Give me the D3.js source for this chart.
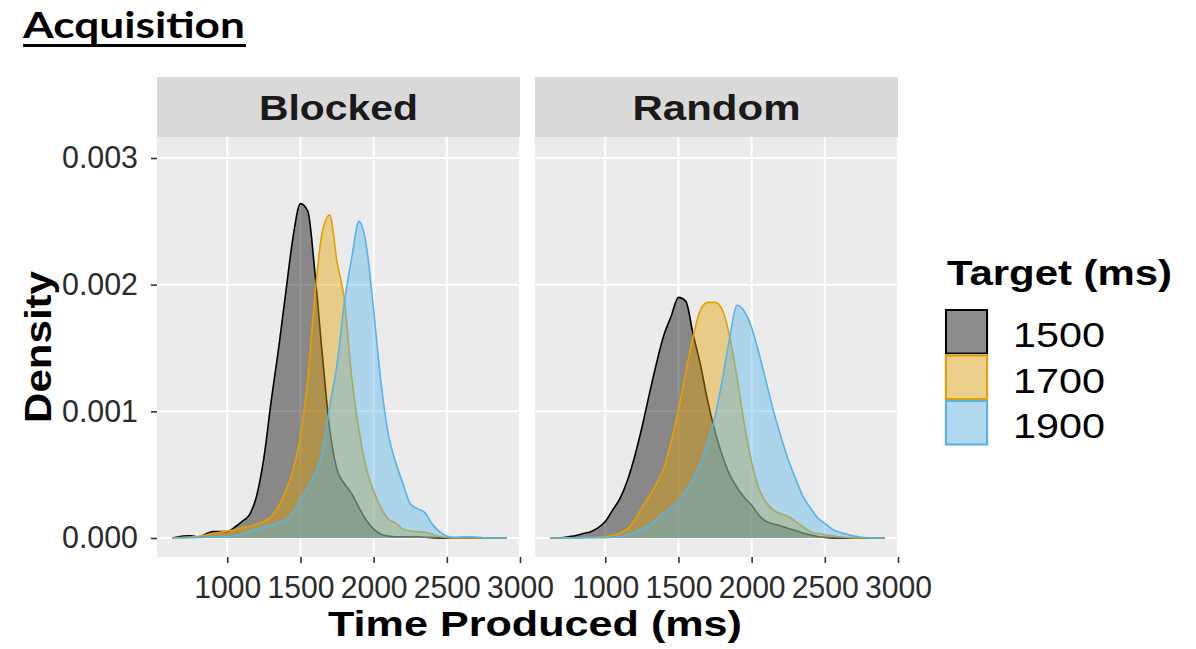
<!DOCTYPE html>
<html lang="en">
	<head>
		<meta charset="UTF-8" />
		<title>Acquisition</title>
		<script src="https://cdn.jsdelivr.net/npm/d3@7"></script>
		<style>
			* {
				padding: 0;
				margin: 0;
				box-sizing: border-box;
			}
			body {
				background: #fff;
			}
			svg {
				display: block;
				font-family: 'Liberation Sans', Arial, sans-serif;
			}
		</style>
	</head>
	<body>
		<svg id="chart" width="1196" height="649"></svg>
		<script>
			let times = [625, 650, 700, 750, 800, 850, 900, 950, 1000, 1050, 1100, 1150, 1200, 1250, 1300, 1350, 1400, 1450, 1500, 1550, 1600, 1650, 1700, 1750, 1800, 1850, 1900, 1950, 2000, 2050, 2100, 2150, 2200, 2250, 2300, 2350, 2400, 2450, 2500, 2550, 2600, 2650, 2700, 2750, 2800, 2850, 2900, 2910];

			// densities, in units of 0.001
			let blocked1500 = [0, 0.005, 0.016, 0.018, 0.008, 0.03, 0.05, 0.05, 0.05, 0.085, 0.13, 0.18, 0.33, 0.63, 1.08, 1.49, 1.94, 2.38, 2.64, 2.58, 2.08, 1.44, 0.86, 0.54, 0.43, 0.35, 0.24, 0.14, 0.07, 0.03, 0.015, 0.01, 0.01, 0.01, 0.01, 0.006, 0.003, 0.001, 0, 0, 0, 0, 0, 0, 0, 0, 0, 0];
			let blocked1700 = [0, 0.003, 0.005, 0.008, 0.012, 0.024, 0.035, 0.045, 0.055, 0.065, 0.08, 0.09, 0.11, 0.13, 0.17, 0.25, 0.37, 0.54, 0.8, 1.25, 1.93, 2.42, 2.55, 2.18, 1.88, 1.27, 0.85, 0.55, 0.37, 0.24, 0.15, 0.12, 0.07, 0.055, 0.05, 0.045, 0.03, 0.012, 0.004, 0.001, 0, 0, 0, 0, 0, 0, 0, 0];
			let blocked1900 = [0, 0, 0, 0.002, 0.004, 0.006, 0.008, 0.01, 0.012, 0.018, 0.028, 0.05, 0.07, 0.085, 0.1, 0.12, 0.14, 0.2, 0.3, 0.4, 0.51, 0.68, 1.04, 1.37, 1.86, 2.21, 2.5, 2.31, 1.8, 1.23, 0.82, 0.6, 0.43, 0.27, 0.23, 0.2, 0.11, 0.05, 0.015, 0.005, 0.008, 0.01, 0.008, 0.002, 0, 0, 0, 0];
			let random1500 = [0, 0, 0.002, 0.01, 0.02, 0.035, 0.05, 0.08, 0.13, 0.22, 0.31, 0.45, 0.64, 0.87, 1.13, 1.38, 1.6, 1.75, 1.9, 1.87, 1.61, 1.37, 1.08, 0.84, 0.65, 0.5, 0.4, 0.32, 0.26, 0.18, 0.13, 0.11, 0.095, 0.075, 0.06, 0.04, 0.025, 0.012, 0.005, 0.001, 0, 0, 0, 0, 0, 0, 0, 0];
			let random1700 = [0, 0, 0, 0.001, 0.002, 0.003, 0.004, 0.006, 0.012, 0.02, 0.04, 0.07, 0.14, 0.24, 0.33, 0.43, 0.55, 0.76, 1.01, 1.31, 1.59, 1.8, 1.86, 1.86, 1.8, 1.59, 1.27, 0.9, 0.6, 0.39, 0.28, 0.22, 0.19, 0.17, 0.13, 0.09, 0.05, 0.035, 0.025, 0.018, 0.01, 0.004, 0.001, 0, 0, 0, 0, 0];
			let random1900 = [0, 0, 0, 0, 0.001, 0.001, 0.002, 0.002, 0.003, 0.006, 0.012, 0.025, 0.04, 0.075, 0.1, 0.15, 0.195, 0.24, 0.29, 0.37, 0.46, 0.59, 0.75, 0.96, 1.25, 1.58, 1.84, 1.79, 1.66, 1.46, 1.23, 1.0, 0.8, 0.62, 0.47, 0.33, 0.24, 0.16, 0.115, 0.07, 0.045, 0.03, 0.015, 0.006, 0.002, 0, 0, 0];

			let panels = ['Blocked', 'Random'];
			let targets = ['1500', '1700', '1900'];
			let targetColors = ['#000000', '#E69F00', '#56B4E9'];
			let timeTicks = [1000, 1500, 2000, 2500, 3000];
			let densityTicks = [0, 1, 2, 3];

			let seriesByPanel = {
				Blocked: [blocked1500, blocked1700, blocked1900],
				Random: [random1500, random1700, random1900],
			};

			let svg = d3.select('#chart');

			let panelLeft = [157, 535],
				panelWidth = 363,
				stripTop = 77,
				panelTop = 137,
				panelBottom = 557;

			let x = d3.scaleLinear().domain([520, 3000]).range([0, panelWidth]);
			let y = d3.scaleLinear().domain([0, 3]).range([538, 158]);
			let fillAlpha = 0.42;

			let area = d3
				.area()
				.x((d) => x(d[0]))
				.y0(y(0))
				.y1((d) => y(d[1]))
				.curve(d3.curveMonotoneX);
			let line = d3
				.line()
				.x((d) => x(d[0]))
				.y((d) => y(d[1]))
				.curve(d3.curveMonotoneX);

			// title
			svg.append('text')
				.attr('x', 23)
				.attr('y', 38)
				.attr('textLength', 222)
				.attr('lengthAdjust', 'spacingAndGlyphs')
				.style('font-family', 'Lato, sans-serif')
				.style('font-weight', 700)
				.style('font-size', '37px')
				.text('Acquisition');
			svg.append('rect').attr('x', 23).attr('y', 44).attr('width', 223).attr('height', 3).attr('fill', '#000');

			panels.forEach(function (name, p) {
				let g = svg.append('g').attr('transform', 'translate(' + panelLeft[p] + ',0)');

				// strip
				g.append('rect')
					.attr('x', 0)
					.attr('y', stripTop)
					.attr('width', panelWidth)
					.attr('height', panelTop - stripTop)
					.attr('fill', '#D9D9D9');
				g.append('text')
					.attr('x', panelWidth / 2)
					.attr('y', 120)
					.attr('text-anchor', 'middle')
					.attr('textLength', name == 'Blocked' ? 159 : 168)
					.attr('lengthAdjust', 'spacingAndGlyphs')
					.style('font-weight', 700)
					.style('font-size', '35px')
					.attr('fill', '#1A1A1A')
					.text(name);

				// panel + grid
				g.append('rect')
					.attr('x', 0)
					.attr('y', panelTop)
					.attr('width', panelWidth)
					.attr('height', panelBottom - panelTop)
					.attr('fill', '#EBEBEB');
				g.selectAll('.vgrid')
					.data(timeTicks)
					.enter()
					.append('line')
					.attr('x1', (d) => x(d))
					.attr('x2', (d) => x(d))
					.attr('y1', panelTop)
					.attr('y2', panelBottom)
					.attr('stroke', '#fff')
					.attr('stroke-width', 2);
				g.selectAll('.hgrid')
					.data(densityTicks)
					.enter()
					.append('line')
					.attr('x1', 0)
					.attr('x2', panelWidth)
					.attr('y1', (d) => y(d))
					.attr('y2', (d) => y(d))
					.attr('stroke', '#fff')
					.attr('stroke-width', 2);

				// densities, drawn group by group
				let marks = g.append('g');
				seriesByPanel[name].forEach(function (vals, i) {
					let pts = times.map((t, k) => [t, vals[k]]);
					marks.append('path')
						.attr('d', area(pts))
						.attr('fill', targetColors[i])
						.attr('fill-opacity', fillAlpha);
					marks.append('path')
						.attr('d', line(pts))
						.attr('fill', 'none')
						.attr('stroke', targetColors[i])
						.attr('stroke-width', 1.6);
				});

				// x axis
				let xAxis = g
					.append('g')
					.attr('transform', 'translate(0,' + panelBottom + ')')
					.call(
						d3
							.axisBottom(x)
							.tickValues(timeTicks)
							.tickFormat(d3.format('d'))
							.tickSizeInner(6)
							.tickSizeOuter(0)
							.tickPadding(13)
					);
				styleAxis(xAxis, 67);

				if (p == 0) {
					let yAxis = g
						.append('g')
						.call(
							d3
								.axisLeft(y)
								.tickValues(densityTicks)
								.tickSizeInner(6)
								.tickSizeOuter(0)
								.tickPadding(13)
								.tickFormat((d) => (d / 1000).toFixed(3))
						);
					styleAxis(yAxis, 76);
				}
			});

			function styleAxis(a, labelWidth) {
				a.attr('font-family', null).attr('font-size', null);
				a.select('.domain').remove();
				a.selectAll('.tick line').attr('stroke', '#333').attr('stroke-width', 1.6);
				a.selectAll('.tick text')
					.attr('fill', '#2b2b2b')
					.attr('textLength', labelWidth)
					.attr('lengthAdjust', 'spacingAndGlyphs')
					.style('font-family', "'Liberation Sans', Arial, sans-serif")
					.style('font-size', '31px');
			}

			// axis titles
			svg.append('text')
				.attr('x', 535)
				.attr('y', 636)
				.attr('text-anchor', 'middle')
				.attr('textLength', 414)
				.attr('lengthAdjust', 'spacingAndGlyphs')
				.style('font-weight', 700)
				.style('font-size', '35px')
				.text('Time Produced (ms)');
			svg.append('text')
				.attr('transform', 'translate(51,347) rotate(-90)')
				.attr('text-anchor', 'middle')
				.attr('textLength', 152)
				.attr('lengthAdjust', 'spacingAndGlyphs')
				.style('font-weight', 700)
				.style('font-size', '36px')
				.text('Density');

			// legend
			svg.append('text')
				.attr('x', 947)
				.attr('y', 285)
				.attr('textLength', 225)
				.attr('lengthAdjust', 'spacingAndGlyphs')
				.style('font-weight', 700)
				.style('font-size', '35px')
				.text('Target (ms)');

			let keyH = 45.5;
			targets.forEach(function (t, i) {
				let ky = 309 + i * keyH;
				svg.append('rect').attr('x', 944).attr('y', ky).attr('width', 45).attr('height', keyH).attr('fill', '#F2F2F2');
				svg.append('rect')
					.attr('x', 946)
					.attr('y', ky + 1)
					.attr('width', 41)
					.attr('height', keyH - 2)
					.attr('fill', targetColors[i])
					.attr('fill-opacity', fillAlpha)
					.attr('stroke', targetColors[i])
					.attr('stroke-width', 2);
				svg.append('text')
					.attr('x', 1013)
					.attr('y', ky + 38)
					.attr('textLength', 92)
					.attr('lengthAdjust', 'spacingAndGlyphs')
					.style('font-size', '35px')
					.text(t);
			});
		</script>
	</body>
</html>
